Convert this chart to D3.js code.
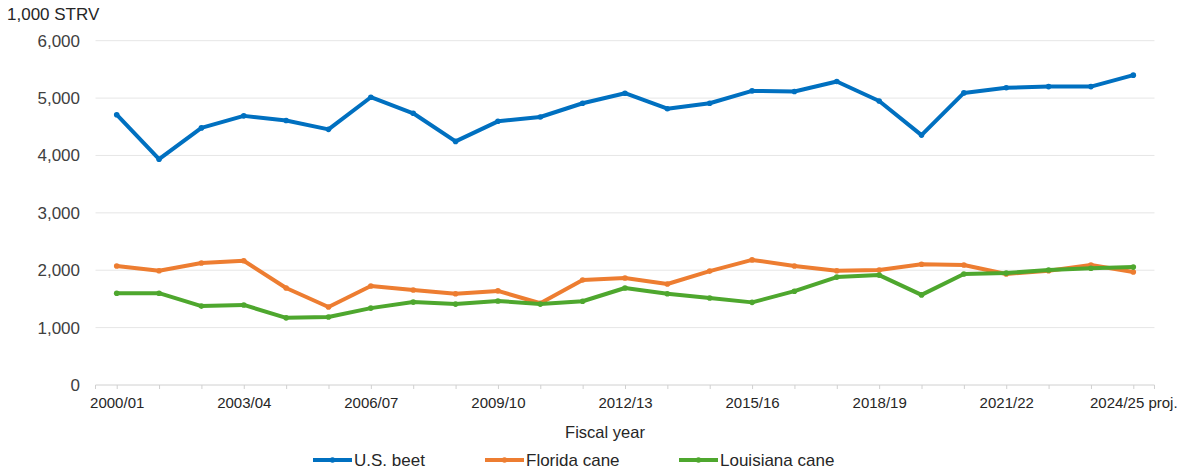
<!DOCTYPE html>
<html>
<head>
<meta charset="utf-8">
<script src="https://cdn.jsdelivr.net/npm/d3@7/dist/d3.min.js"></script>
<style>
  html, body { margin: 0; padding: 0; background: #fff; }
  svg { display: block; font-family: "Liberation Sans", Arial, sans-serif; }
</style>
</head>
<body>
<svg id="chart" width="1182" height="472"></svg>
<script>
// Fiscal years, 2000/01 through 2024/25 (last year is a projection)
const years = [
  "2000/01","2001/02","2002/03","2003/04","2004/05","2005/06","2006/07","2007/08",
  "2008/09","2009/10","2010/11","2011/12","2012/13","2013/14","2014/15","2015/16",
  "2016/17","2017/18","2018/19","2019/20","2020/21","2021/22","2022/23","2023/24","2024/25"
];

// Production, 1,000 short tons raw value
const usBeet = [
  4710, 3935, 4480, 4690, 4610, 4455, 5015, 4735, 4245, 4595, 4670, 4910, 5085,
  4815, 4910, 5125, 5115, 5290, 4950, 4355, 5090, 5180, 5200, 5200, 5400
];
const floridaCane = [
  2075, 1990, 2125, 2165, 1690, 1360, 1725, 1655, 1590, 1640, 1425, 1830, 1865,
  1760, 1985, 2180, 2075, 1990, 2005, 2105, 2090, 1935, 1990, 2090, 1970
];
const louisianaCane = [
  1600, 1600, 1375, 1395, 1170, 1185, 1340, 1445, 1410, 1465, 1410, 1460, 1690,
  1590, 1515, 1440, 1635, 1880, 1915, 1570, 1935, 1950, 2005, 2035, 2055
];

const seriesNames = ["U.S. beet", "Florida cane", "Louisiana cane"];
const seriesColors = ["#0070C0", "#ED7D31", "#4EA72E"];
const yTicks = [0, 1000, 2000, 3000, 4000, 5000, 6000];
const xLabelYears = ["2000/01","2003/04","2006/07","2009/10","2012/13","2015/16","2018/19","2021/22","2024/25"];
const projectedYear = "2024/25";

const series = [usBeet, floridaCane, louisianaCane].map((values, i) => ({
  name: seriesNames[i],
  color: seriesColors[i],
  values: values.map((v, j) => ({ year: years[j], value: v }))
}));

const svg = d3.select("#chart");
const tickFont = 15;
const labelFont = 17;

const x = d3.scalePoint().domain(years).range([116.7, 1133.3]);
const halfStep = x.step() / 2;
const plotLeft = x(years[0]) - halfStep;
const plotRight = x(years[years.length - 1]) + halfStep;

const y = d3.scaleLinear().domain([0, 6000]).range([385, 40.7]);

// Horizontal gridlines
svg.append("g")
  .selectAll("line")
  .data(yTicks.filter(d => d > 0))
  .join("line")
  .attr("x1", plotLeft).attr("x2", plotRight)
  .attr("y1", d => y(d)).attr("y2", d => y(d))
  .attr("stroke", "#e6e6e6").attr("stroke-width", 1);

// Y axis labels
const yAxis = d3.axisLeft(y).tickValues(yTicks).tickFormat(d3.format(",")).tickSize(0).tickPadding(0);
const yG = svg.append("g").attr("transform", "translate(80,0)").call(yAxis);
yG.select(".domain").remove();
yG.selectAll("text")
  .attr("font-size", labelFont)
  .attr("font-family", "Liberation Sans, Arial, sans-serif")
  .attr("fill", "#404040");

// X axis: line, ticks at each year, labels every third year
const xAxis = d3.axisBottom(x).tickSize(4).tickSizeOuter(0)
  .tickFormat(d => xLabelYears.includes(d) ? (d === projectedYear ? d + " proj." : d) : "");
const xG = svg.append("g").attr("transform", `translate(0,${y(0)})`).call(xAxis);
xG.select(".domain").remove();
xG.append("line")
  .attr("x1", plotLeft).attr("x2", plotRight)
  .attr("stroke", "#d0d0d0").attr("stroke-width", 1);
xG.selectAll(".tick line").attr("stroke", "#d0d0d0");
xG.selectAll(".tick text")
  .attr("font-size", tickFont)
  .attr("font-family", "Liberation Sans, Arial, sans-serif")
  .attr("fill", "#262626")
  .attr("dy", "0.71em")
  .attr("y", 12);
[plotLeft, plotRight].forEach(px => {
  xG.append("line").attr("x1", px).attr("x2", px).attr("y1", 0).attr("y2", 4).attr("stroke", "#d0d0d0");
});

// Axis titles
svg.append("text")
  .attr("x", 7).attr("y", 20)
  .attr("font-size", labelFont)
  .attr("fill", "#262626")
  .text("1,000 STRV");

svg.append("text")
  .attr("x", 605).attr("y", 438)
  .attr("text-anchor", "middle")
  .attr("font-size", labelFont - 0.5)
  .attr("fill", "#262626")
  .text("Fiscal year");

// Lines and markers
const line = d3.line().x(d => x(d.year)).y(d => y(d.value));

const sG = svg.append("g")
  .selectAll("g")
  .data(series)
  .join("g");

sG.append("path")
  .attr("d", d => line(d.values))
  .attr("fill", "none")
  .attr("stroke", d => d.color)
  .attr("stroke-width", 4)
  .attr("stroke-linejoin", "round")
  .attr("stroke-linecap", "round");

sG.selectAll("circle")
  .data(d => d.values.map(v => ({ ...v, color: d.color })))
  .join("circle")
  .attr("cx", d => x(d.year))
  .attr("cy", d => y(d.value))
  .attr("r", 2.8)
  .attr("fill", d => d.color);

// Legend
const legendX = [313, 485, 679];
const legendY = 460;
const lg = svg.append("g")
  .selectAll("g")
  .data(series)
  .join("g")
  .attr("transform", (d, i) => `translate(${legendX[i]},${legendY})`);
lg.append("line")
  .attr("x1", 0).attr("x2", 39)
  .attr("stroke", d => d.color).attr("stroke-width", 4);
lg.append("circle")
  .attr("cx", 19.5).attr("r", 2.8).attr("fill", d => d.color);
lg.append("text")
  .attr("x", 41).attr("dy", "0.36em")
  .attr("font-size", labelFont)
  .attr("fill", "#262626")
  .text(d => d.name);
</script>
</body>
</html>
